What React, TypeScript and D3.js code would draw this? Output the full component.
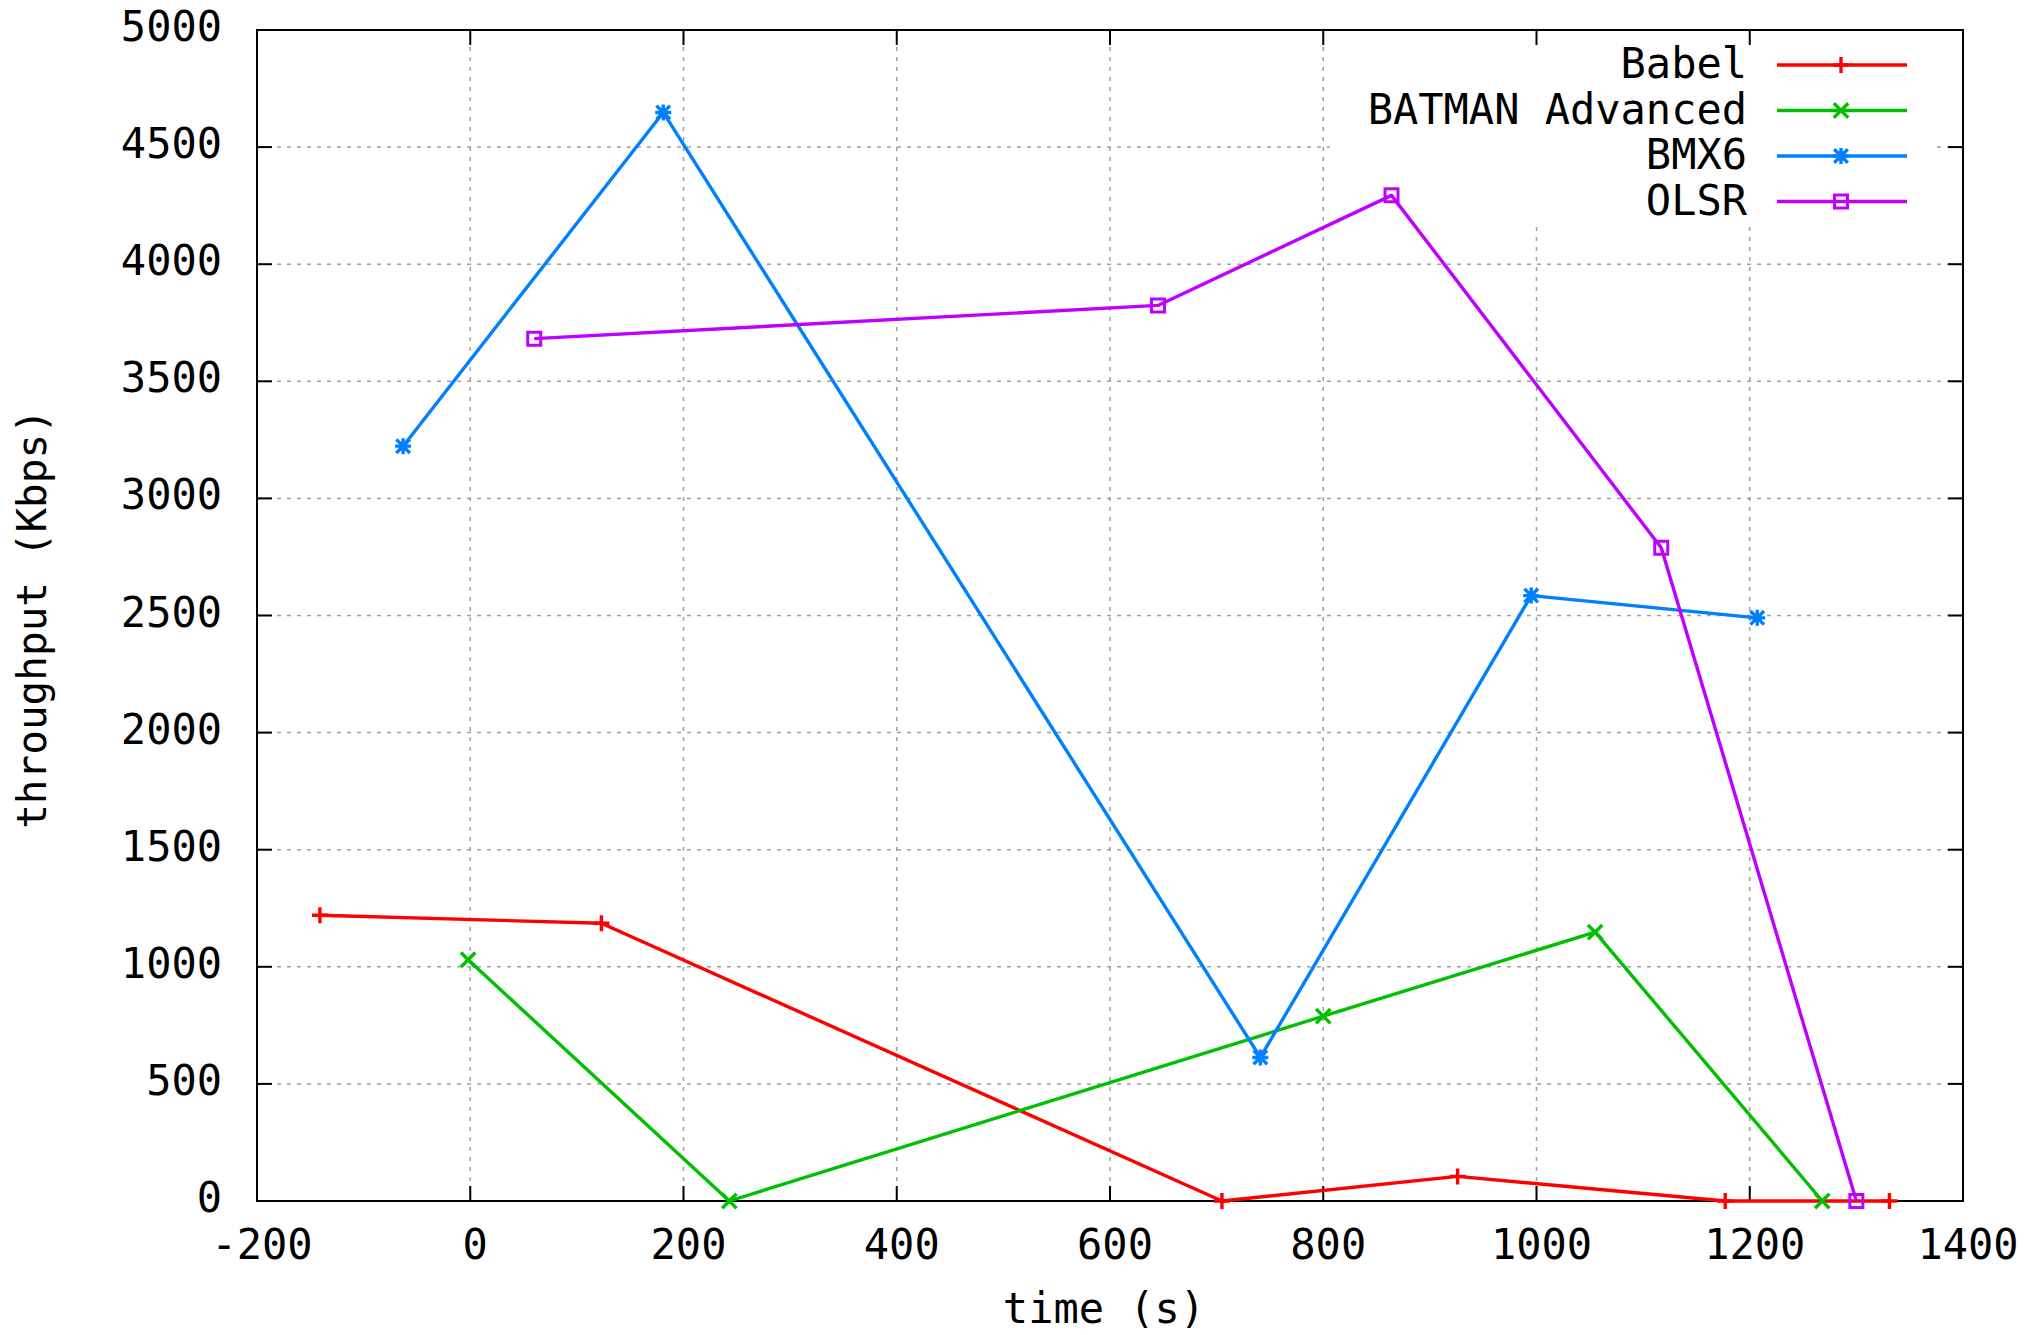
import React from "react";
import * as d3 from "d3";

const xTicks = [-200, 0, 200, 400, 600, 800, 1000, 1200, 1400];
const yTicks = [0, 500, 1000, 1500, 2000, 2500, 3000, 3500, 4000, 4500, 5000];

const babelX = [-141, 123, 705, 926, 1177, 1331];
const babelY = [1220, 1186, 0, 105, 0, 0];
const batmanX = [-2, 243, 800, 1055, 1268];
const batmanY = [1030, 0, 789, 1148, 0];
const bmx6X = [-63, 181, 741, 995, 1207];
const bmx6Y = [3223, 4648, 613, 2585, 2490];
const olsrX = [60, 645, 864, 1117, 1300];
const olsrY = [3682, 3824, 4294, 2789, 0];

const seriesNames = ["Babel", "BATMAN Advanced", "BMX6", "OLSR"];
const seriesColors = ["#ff0000", "#00c000", "#0080ff", "#c000ff"];
const seriesSymbols = ["plus", "cross", "star", "square"];

const W = 2026;
const H = 1335;
const L = 257, R = 1963, T = 30, B = 1201;
const FONT = "'DejaVu Sans Mono', monospace";
const FS = 42;

function markerPath(kind: string, cx: number, cy: number, s = 8): string {
  const p = d3.path();
  const plus = () => {
    p.moveTo(cx - s, cy); p.lineTo(cx + s, cy);
    p.moveTo(cx, cy - s); p.lineTo(cx, cy + s);
  };
  const cross = (k = s) => {
    p.moveTo(cx - k, cy - k); p.lineTo(cx + k, cy + k);
    p.moveTo(cx - k, cy + k); p.lineTo(cx + k, cy - k);
  };
  if (kind === "plus") plus();
  else if (kind === "cross") cross(s * 0.9);
  else if (kind === "star") { plus(); cross(s * 0.85); }
  else if (kind === "square") p.rect(cx - 6.5, cy - 6.5, 13, 13);
  return p.toString();
}

export default function App() {
  const x = d3.scaleLinear().domain([-200, 1400]).range([L, R]);
  const y = d3.scaleLinear().domain([0, 5000]).range([B, T]);
  const line = d3.line<[number, number]>().x((d) => x(d[0])).y((d) => y(d[1]));

  const series = [
    { xs: babelX, ys: babelY },
    { xs: batmanX, ys: batmanY },
    { xs: bmx6X, ys: bmx6Y },
    { xs: olsrX, ys: olsrY },
  ].map((s, i) => ({
    name: seriesNames[i],
    color: seriesColors[i],
    symbol: seriesSymbols[i],
    pts: s.xs.map((v, j) => [v, s.ys[j]] as [number, number]),
  }));

  const legendY0 = 65;
  const legendStep = 45.5;

  return (
    <svg
      width={W}
      height={H}
      viewBox={`0 0 ${W} ${H}`}
      style={{ position: "absolute", left: 0, top: 0, display: "block", background: "#fff" }}
    >
      <rect x={0} y={0} width={W} height={H} fill="#fff" />
      {/* grid */}
      <g stroke="#a0a0a0" strokeWidth={1.5} strokeDasharray="4,6">
        {xTicks.slice(1, -1).map((t) => (
          <line key={"gx" + t} x1={x(t)} x2={x(t)} y1={B} y2={T} />
        ))}
        {yTicks.slice(1, -1).map((t) => (
          <line key={"gy" + t} x1={L} x2={R} y1={y(t)} y2={y(t)} />
        ))}
      </g>
      {/* opaque key box */}
      <rect x={1330} y={31} width={602} height={192} fill="#fff" />
      {/* ticks */}
      <g stroke="#000" strokeWidth={2}>
        {xTicks.map((t) => (
          <g key={"tx" + t}>
            <line x1={x(t)} x2={x(t)} y1={B} y2={B - 15} />
            <line x1={x(t)} x2={x(t)} y1={T} y2={T + 15} />
          </g>
        ))}
        {yTicks.map((t) => (
          <g key={"ty" + t}>
            <line x1={L} x2={L + 15} y1={y(t)} y2={y(t)} />
            <line x1={R} x2={R - 15} y1={y(t)} y2={y(t)} />
          </g>
        ))}
      </g>
      <rect x={L} y={T} width={R - L} height={B - T} fill="none" stroke="#000" strokeWidth={2} />
      {/* tick labels */}
      <g fontFamily={FONT} fontSize={FS} fill="#000">
        {yTicks.map((t) => (
          <text key={"ly" + t} x={222} y={y(t) + 11} textAnchor="end">
            {t}
          </text>
        ))}
        {xTicks.map((t) => (
          <text key={"lx" + t} x={x(t) + 5} y={1259} textAnchor="middle">
            {t}
          </text>
        ))}
        <text x={1104} y={1323} textAnchor="middle">time (s)</text>
        <text transform="translate(46,619) rotate(-90)" textAnchor="middle" fontSize={41}>
          throughput (Kbps)
        </text>
      </g>
      {/* series */}
      {series.map((s) => (
        <g key={s.name}>
          <path d={line(s.pts) || ""} fill="none" stroke={s.color} strokeWidth={3.4} strokeLinejoin="round" />
          {s.pts.map((p, j) => (
            <path
              key={j}
              d={markerPath(s.symbol, x(p[0]), y(p[1]))}
              fill="none"
              stroke={s.color}
              strokeWidth={s.symbol === "square" ? 3 : 3.4}
            />
          ))}
        </g>
      ))}
      {/* legend */}
      <g fontFamily={FONT} fontSize={FS}>
        {series.map((s, i) => {
          const ly = legendY0 + i * legendStep;
          return (
            <g key={"lg" + s.name}>
              <text x={1747} y={ly + 13} textAnchor="end" fill="#000">
                {s.name}
              </text>
              <line x1={1777} x2={1907} y1={ly} y2={ly} stroke={s.color} strokeWidth={3.4} />
              <path
                d={markerPath(s.symbol, 1841, ly)}
                fill="none"
                stroke={s.color}
                strokeWidth={s.symbol === "square" ? 3 : 3.4}
              />
            </g>
          );
        })}
      </g>
    </svg>
  );
}
